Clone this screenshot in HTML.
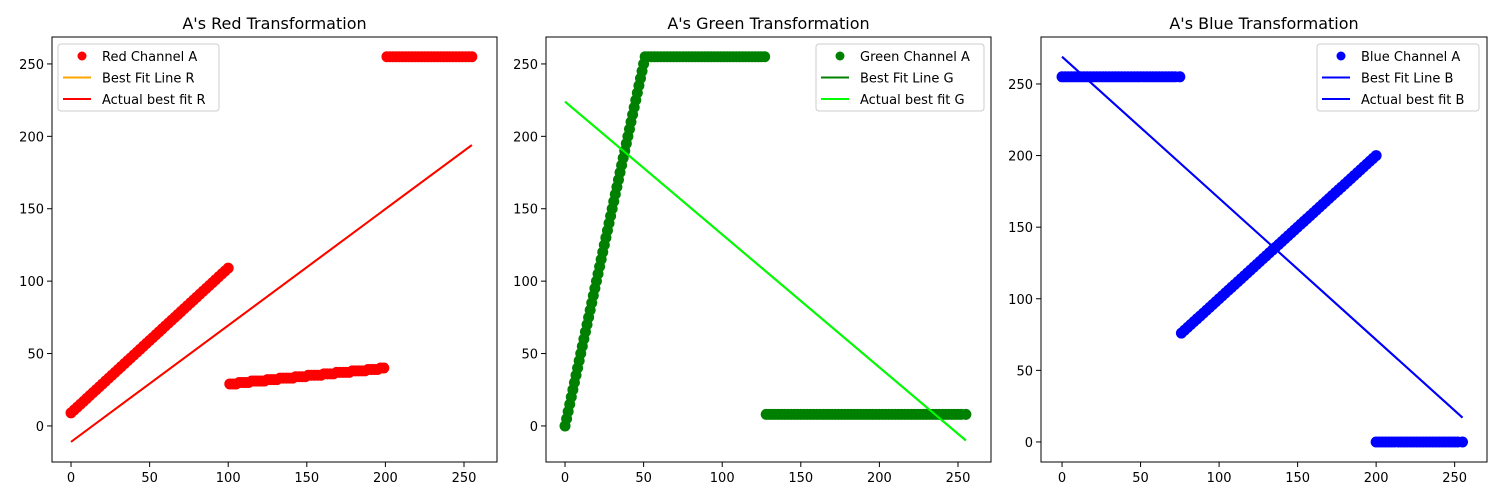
<!DOCTYPE html>
<html><head><meta charset="utf-8"><style>
body{margin:0;background:#fff;}
svg{display:block;font-family:"DejaVu Sans","Liberation Sans",sans-serif;}
</style></head><body>
<svg id="fig" width="1500" height="500" xmlns="http://www.w3.org/2000/svg"></svg>
<script>
const xTicks=[0,50,100,150,200,250];
const yTicks=[0,50,100,150,200,250];
const titles=["A's Red Transformation","A's Green Transformation","A's Blue Transformation"];
const redX1=[0,2,4,6,8,10,12,14,16,18,20,22,24,26,28,30,32,34,36,38,40,42,44,46,48,50,52,54,56,58,60,62,64,66,68,70,72,74,76,78,80,82,84,86,88,90,92,94,96,98,100];
const redY1=[9,11,13,15,17,19,21,23,25,27,29,31,33,35,37,39,41,43,45,47,49,51,53,55,57,59,61,63,65,67,69,71,73,75,77,79,81,83,85,87,89,91,93,95,97,99,101,103,105,107,109];
const redX2=[101,103,105,107,109,111,113,115,117,119,121,123,125,127,129,131,133,135,137,139,141,143,145,147,149,151,153,155,157,159,161,163,165,167,169,171,173,175,177,179,181,183,185,187,189,191,193,195,197,199];
const redY2=[29,29,29,30,30,30,30,31,31,31,31,31,32,32,32,32,33,33,33,33,33,34,34,34,34,35,35,35,35,35,36,36,36,36,37,37,37,37,37,38,38,38,38,38,39,39,39,39,40,40];
const redX3=[201,203,205,207,209,211,213,215,217,219,221,223,225,227,229,231,233,235,237,239,241,243,245,247,249,251,253,255];
const redY3=[255,255,255,255,255,255,255,255,255,255,255,255,255,255,255,255,255,255,255,255,255,255,255,255,255,255,255,255];
const greenX1=[0,1,2,3,4,5,6,7,8,9,10,11,12,13,14,15,16,17,18,19,20,21,22,23,24,25,26,27,28,29,30,31,32,33,34,35,36,37,38,39,40,41,42,43,44,45,46,47,48,49,50,51];
const greenY1=[0,5,10,15,20,25,30,35,40,45,50,55,60,65,70,75,80,85,90,95,100,105,110,115,120,125,130,135,140,145,150,155,160,165,170,175,180,185,190,195,200,205,210,215,220,225,230,235,240,245,250,255];
const greenX2=[53,55,57,59,61,63,65,67,69,71,73,75,77,79,81,83,85,87,89,91,93,95,97,99,101,103,105,107,109,111,113,115,117,119,121,123,125,127];
const greenY2=[255,255,255,255,255,255,255,255,255,255,255,255,255,255,255,255,255,255,255,255,255,255,255,255,255,255,255,255,255,255,255,255,255,255,255,255,255,255];
const greenX3=[128,130,132,134,136,138,140,142,144,146,148,150,152,154,156,158,160,162,164,166,168,170,172,174,176,178,180,182,184,186,188,190,192,194,196,198,200,202,204,206,208,210,212,214,216,218,220,222,224,226,228,230,232,234,236,238,240,242,244,246,248,250,252,255];
const greenY3=[8,8,8,8,8,8,8,8,8,8,8,8,8,8,8,8,8,8,8,8,8,8,8,8,8,8,8,8,8,8,8,8,8,8,8,8,8,8,8,8,8,8,8,8,8,8,8,8,8,8,8,8,8,8,8,8,8,8,8,8,8,8,8,8];
const blueX1=[0,2,4,6,8,10,12,14,16,18,20,22,24,26,28,30,32,34,36,38,40,42,44,46,48,50,52,54,56,58,60,62,64,66,68,70,72,75];
const blueY1=[255,255,255,255,255,255,255,255,255,255,255,255,255,255,255,255,255,255,255,255,255,255,255,255,255,255,255,255,255,255,255,255,255,255,255,255,255,255];
const blueX2=[76,78,80,82,84,86,88,90,92,94,96,98,100,102,104,106,108,110,112,114,116,118,120,122,124,126,128,130,132,134,136,138,140,142,144,146,148,150,152,154,156,158,160,162,164,166,168,170,172,174,176,178,180,182,184,186,188,190,192,194,196,198,200];
const blueY2=[76,78,80,82,84,86,88,90,92,94,96,98,100,102,104,106,108,110,112,114,116,118,120,122,124,126,128,130,132,134,136,138,140,142,144,146,148,150,152,154,156,158,160,162,164,166,168,170,172,174,176,178,180,182,184,186,188,190,192,194,196,198,200];
const blueX3=[200,202,204,206,208,210,212,214,216,218,220,222,224,226,228,230,232,234,236,238,240,242,244,246,248,250,252,255];
const blueY3=[0,0,0,0,0,0,0,0,0,0,0,0,0,0,0,0,0,0,0,0,0,0,0,0,0,0,0,0];
const fitX=[0,255];
const redFit=[-11,194];
const orangeFit=[-11,194];
const greenFit=[224,-10];
const greenFit2=[224,-10];
const blueFit=[269,17];
const blueFit2=[269,17];

const NS="http://www.w3.org/2000/svg";
const fig=document.getElementById('fig');
function mk(tag,attrs,parent){const e=document.createElementNS(NS,tag);for(const k in attrs)e.setAttribute(k,attrs[k]);(parent||fig).appendChild(e);return e;}

const panels=[
 {x0:52,x1:497,xmin:-12.1,xmax:271,ymin:-24.9,ymax:268.6,px:[redX1,redX2,redX3],py:[redY1,redY2,redY3],pc:'#ff0000',lines:[[orangeFit,'#ffa500'],[redFit,'#ff0000']],
  leg:{x:58,w:161,labels:['Red Channel A','Best Fit Line R','Actual best fit R'],cols:['#ff0000','#ffa500','#ff0000']}},
 {x0:546,x1:991,xmin:-12.1,xmax:271,ymin:-24.9,ymax:268.6,px:[greenX1,greenX2,greenX3],py:[greenY1,greenY2,greenY3],pc:'#008000',lines:[[greenFit,'#008000'],[greenFit2,'#00ff00']],
  leg:{x:816,w:168,labels:['Green Channel A','Best Fit Line G','Actual best fit G'],cols:['#008000','#008000','#00ff00']}},
 {x0:1041,x1:1487,xmin:-13.4,xmax:270.6,ymin:-14.0,ymax:282.8,px:[blueX1,blueX2,blueX3],py:[blueY1,blueY2,blueY3],pc:'#0000ff',lines:[[blueFit,'#0000ff'],[blueFit2,'#0000ff']],
  leg:{x:1317,w:162,labels:['Blue Channel A','Best Fit Line B','Actual best fit B'],cols:['#0000ff','#0000ff','#0000ff']}}
];
const Y0=37,Y1=462;
panels.forEach((p,i)=>{
 const g=mk('g',{});
 
 
 const sx=v=>p.x0+(v-p.xmin)/(p.xmax-p.xmin)*(p.x1-p.x0);
 const sy=v=>Y1-(v-p.ymin)/(p.ymax-p.ymin)*(Y1-Y0);
 const t=mk('text',{x:(p.x0+p.x1)/2,y:29,'text-anchor':'middle','font-size':16,fill:'#000'},g);
 t.textContent=titles[i];
 
 
 const cp=mk('clipPath',{id:'c'+i},g);mk('rect',{x:p.x0,y:Y0,width:p.x1-p.x0,height:Y1-Y0},cp);
 const dg=mk('g',{'clip-path':'url(#c'+i+')'},g);
 p.px.forEach((xs,s)=>{
  const ys=p.py[s];
  for(let k=0;k<xs.length;k++){
   const c=mk('circle',{cx:sx(xs[k]),cy:sy(ys[k]),r:5.5,fill:p.pc},dg);
   
   
  }
 });
 p.lines.forEach(([ys,col])=>{
  const l=mk('line',{x1:sx(fitX[0]),y1:sy(ys[0]),x2:sx(fitX[1]),y2:sy(ys[1]),stroke:col,'stroke-width':2},dg);
  
  
 });
 const fr=mk('rect',{x:p.x0,y:Y0,width:p.x1-p.x0,height:Y1-Y0,fill:'none',stroke:'#000','stroke-width':1},g);
 
 
 xTicks.forEach(v=>{
  const x=sx(v);
  mk('line',{x1:x,y1:Y1,x2:x,y2:Y1+5,stroke:'#000'},g);
  const tt=mk('text',{x:x,y:Y1+20,'text-anchor':'middle','font-size':13,fill:'#000'},g);
  tt.textContent=v;
  
  
 });
 yTicks.forEach(v=>{
  const y=sy(v);
  mk('line',{x1:p.x0-5,y1:y,x2:p.x0,y2:y,stroke:'#000'},g);
  const tt=mk('text',{x:p.x0-8,y:y+5,'text-anchor':'end','font-size':13,fill:'#000'},g);
  tt.textContent=v;
  
  
 });
 const L=p.leg;
 const lg=mk('g',{},g);
 
 
 mk('rect',{x:L.x,y:44,width:L.w,height:67,rx:3,fill:'#fff','fill-opacity':0.8,stroke:'#ccc'},lg);
 L.labels.forEach((lab,j)=>{
  const yy=56+j*21.5;
  if(j===0) mk('circle',{cx:L.x+24,cy:yy,r:4.5,fill:L.cols[j]},lg);
  else mk('line',{x1:L.x+5,y1:yy,x2:L.x+33,y2:yy,stroke:L.cols[j],'stroke-width':2},lg);
  const tx=mk('text',{x:L.x+44,y:yy+5,'font-size':13,fill:'#000'},lg);
  tx.textContent=lab;
  
  
 });
});
</script>
</body></html>
